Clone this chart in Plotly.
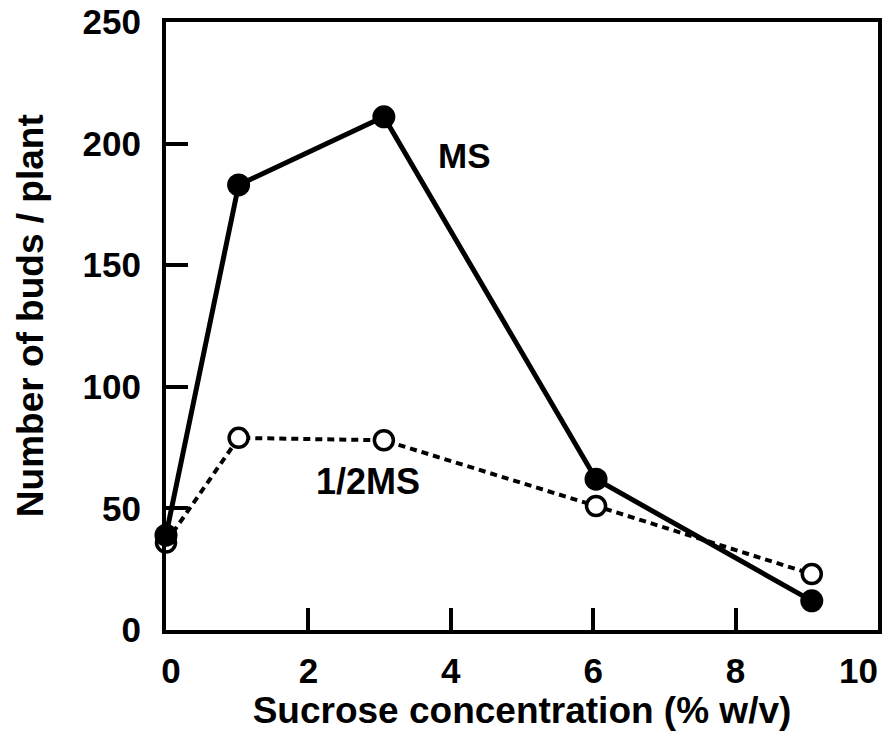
import plotly.graph_objects as go

sucrose = [0, 1.02, 3.06, 6.04, 9.07]
ms_buds = [39, 183, 211, 62, 12]
half_ms_buds = [36, 79, 78, 51, 23]
x_ticks = [0, 2, 4, 6, 8, 10]
x_tick_text = ["&nbsp;0", "2", "4", "6", "8", ""]
x_end_tick = [10]
x_end_text = ["10"]
y_ticks = [0, 50, 100, 150, 200, 250]
x_title = "Sucrose concentration (% w/v)"
y_title = "Number of buds / plant"

FONT = "Liberation Sans"
tick_font = dict(family=FONT, size=35, color="black")

fig = go.Figure()
fig.add_trace(go.Scatter(
    x=sucrose, y=half_ms_buds, mode="lines+markers", name="1/2MS",
    line=dict(color="black", width=4, dash="7px,5px"),
    marker=dict(symbol="circle", size=19, color="white",
                line=dict(color="black", width=3.5)),
    cliponaxis=False,
))
fig.add_trace(go.Scatter(
    x=sucrose, y=ms_buds, mode="lines+markers", name="MS",
    line=dict(color="black", width=5),
    marker=dict(symbol="circle", size=23, color="black"),
    cliponaxis=False,
))
# empty trace so the overlay axis carrying the right-aligned "10" label is drawn
fig.add_trace(go.Scatter(x=[], y=[], xaxis="x2", yaxis="y", showlegend=False,
                         hoverinfo="skip"))

fig.add_annotation(x=4.19, y=195, text="<b>MS</b>", showarrow=False,
                   font=dict(family=FONT, size=35, color="black"))
fig.add_annotation(x=2.83, y=61, text="<b>1/2MS</b>", showarrow=False,
                   font=dict(family=FONT, size=36, color="black"))

fig.update_layout(
    width=885, height=748,
    margin=dict(l=166, r=7, t=22, b=118),
    paper_bgcolor="white", plot_bgcolor="white",
    showlegend=False,
    font=dict(family=FONT, color="black"),
    xaxis2=dict(
        overlaying="x", side="bottom", anchor="y", range=[0, 10],
        tickvals=x_end_tick, ticktext=[f"<b>{t}</b>" for t in x_end_text],
        ticks="", showline=False, showgrid=False, zeroline=False,
        automargin=False, tickfont=tick_font,
        ticklabelposition="outside left", ticklabelstandoff=17,
        ticklabeloverflow="allow",
    ),
)
fig.layout.xaxis.update(
    range=[0, 10], tickvals=x_ticks,
    ticktext=[f"<b>{v}</b>" if v else "" for v in x_tick_text],
    ticks="inside", ticklen=22, tickwidth=3.5, tickcolor="black",
    showline=True, linewidth=4, linecolor="black", mirror=True,
    showgrid=False, zeroline=False, automargin=False,
    tickfont=tick_font,
    ticklabelstandoff=7,
    title=dict(text=f"<b>{x_title}</b>",
               font=dict(family=FONT, size=37, color="black"), standoff=0.1),
)
fig.layout.yaxis.update(
    range=[0, 250], tickvals=y_ticks,
    ticktext=[f"<b>{v}</b>" for v in y_ticks],
    ticks="inside", ticklen=22, tickwidth=3.5, tickcolor="black",
    showline=True, linewidth=4, linecolor="black", mirror=True,
    showgrid=False, zeroline=False, automargin=False,
    tickfont=tick_font,
    ticklabelstandoff=14,
    title=dict(text=f"<b>&nbsp;&nbsp;{y_title}</b>",
               font=dict(family=FONT, size=37, color="black"), standoff=29),
)

fig.write_html("out.html")
